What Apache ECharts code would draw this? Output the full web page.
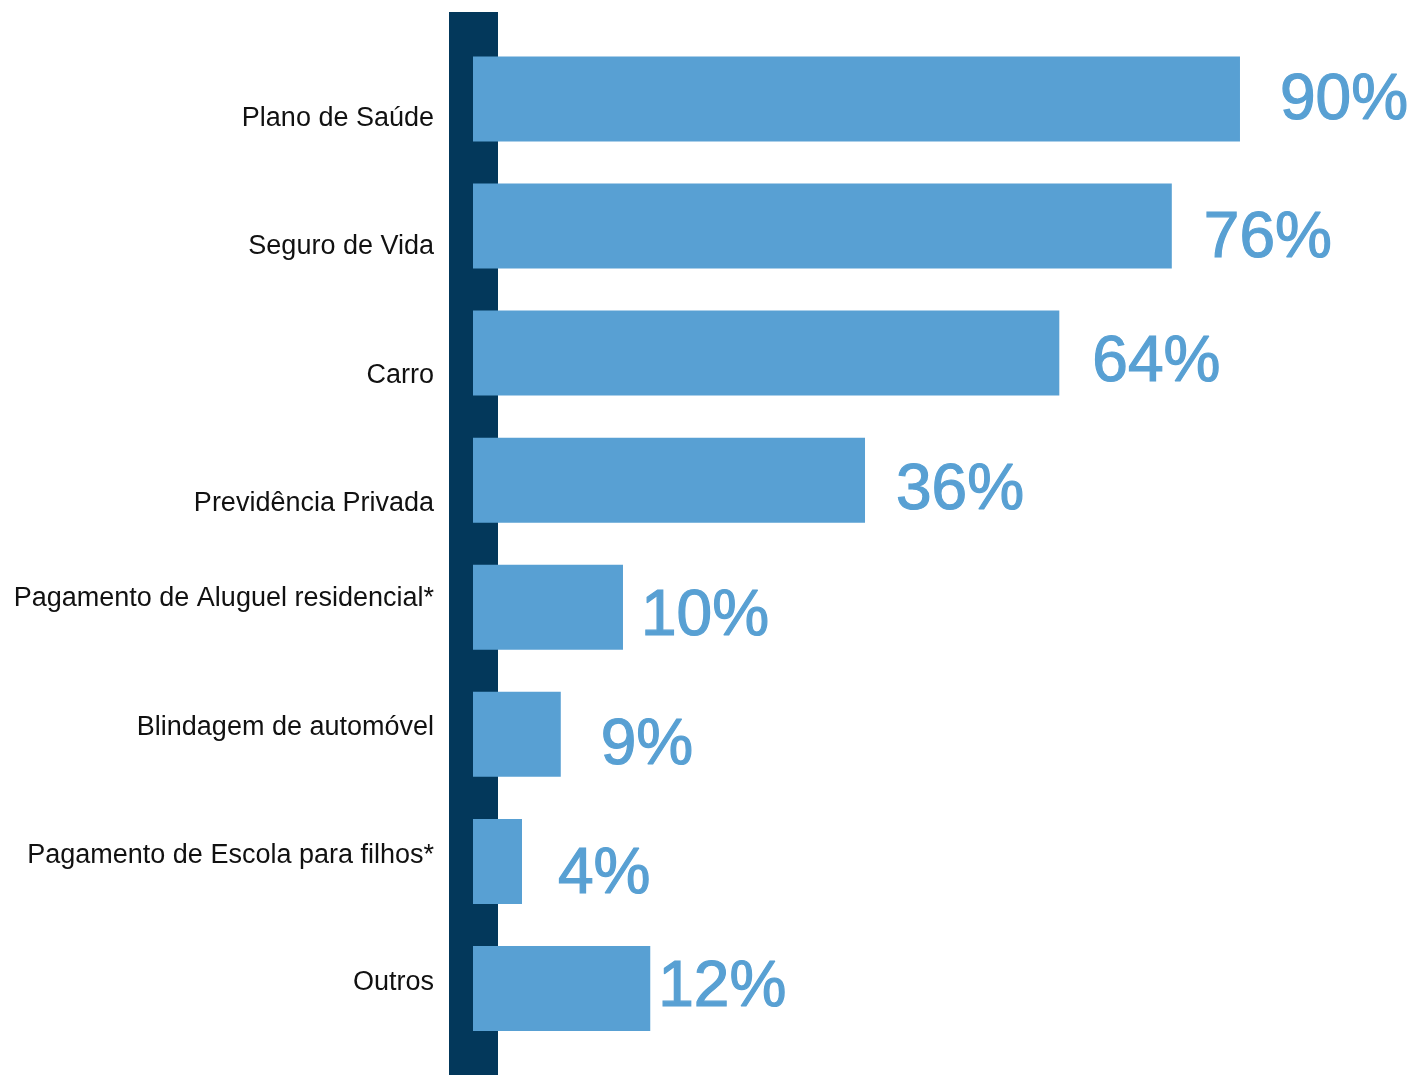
<!DOCTYPE html>
<html>
<head>
<meta charset="utf-8">
<script src="https://cdn.jsdelivr.net/npm/echarts@6/dist/echarts.min.js"></script>
<style>html,body{margin:0;padding:0;background:#fff}#c{width:1415px;height:1075px}</style>
</head>
<body>
<div id="c"></div>
<script>
// ---- data ----
const categories = [
  'Plano de Saúde',
  'Seguro de Vida',
  'Carro',
  'Previdência Privada',
  'Pagamento de Aluguel residencial*',
  'Blindagem de automóvel',
  'Pagamento de Escola para filhos*',
  'Outros'
];
// percentages printed next to each bar
const percentLabels = [90, 76, 64, 36, 10, 9, 4, 12];
// bar lengths as drawn in the picture (same scale as the 90% bar)
const barLengths = [90, 82.0, 68.8, 46.0, 17.6, 10.3, 5.75, 20.8];

// ---- styles ----
const BAR = '#58a0d3';
const NAVY = '#03385b';
const catLabelShift = [20, 21, 22, 23, -9, -7, -6, -6];
const valLabelOffset = [[40, 2], [32, 13], [33, 10], [31, 11], [18, 10], [40, 12], [36, 14], [8, 0]];

const rich = {};
catLabelShift.forEach((d, i) => {
  rich['s' + i] = {
    fontFamily: 'Liberation Sans',
    fontSize: 27,
    color: '#111',
    padding: d >= 0 ? [2 * d, 0, 0, 0] : [0, 0, -2 * d, 0]
  };
});

const chart = echarts.init(document.getElementById('c'), null, { renderer: 'canvas' });
chart.setOption({
  animation: false,
  backgroundColor: '#fff',
  grid: [
    { left: 473, top: 35.4, height: 1016.6, width: 852.2, containLabel: false },
    { left: 473, top: 12, bottom: 0, width: 10, containLabel: false }
  ],
  xAxis: [
    { gridIndex: 0, type: 'value', min: 0, max: 100, show: false },
    { gridIndex: 1, type: 'value', min: 0, max: 1, show: false }
  ],
  yAxis: [
    {
      gridIndex: 0,
      type: 'category',
      inverse: true,
      data: categories,
      axisLine: { show: false },
      axisTick: { show: false },
      splitLine: { show: false },
      axisLabel: {
        margin: 39,
        align: 'right',
        fontFamily: 'Liberation Sans',
        fontSize: 27,
        color: '#111',
        formatter: (v, i) => '{s' + i + '|' + v + '}',
        rich: rich
      }
    },
    {
      gridIndex: 1,
      type: 'category',
      data: [''],
      axisLine: { show: true, lineStyle: { color: NAVY, width: 49, cap: 'butt' } },
      axisTick: { show: false },
      axisLabel: { show: false },
      splitLine: { show: false }
    }
  ],
  series: [
    {
      type: 'bar',
      xAxisIndex: 0,
      yAxisIndex: 0,
      barWidth: 85,
      z: 5,
      itemStyle: { color: BAR },
      data: barLengths.map((v, i) => ({
        value: v,
        label: { offset: valLabelOffset[i] }
      })),
      label: {
        show: true,
        position: 'right',
        distance: 0,
        fontFamily: 'Liberation Sans',
        fontSize: 64,
        color: BAR,
        textBorderColor: BAR,
        textBorderWidth: 1.2,
        formatter: p => percentLabels[p.dataIndex] + '%'
      }
    }
  ]
});
</script>
</body>
</html>
